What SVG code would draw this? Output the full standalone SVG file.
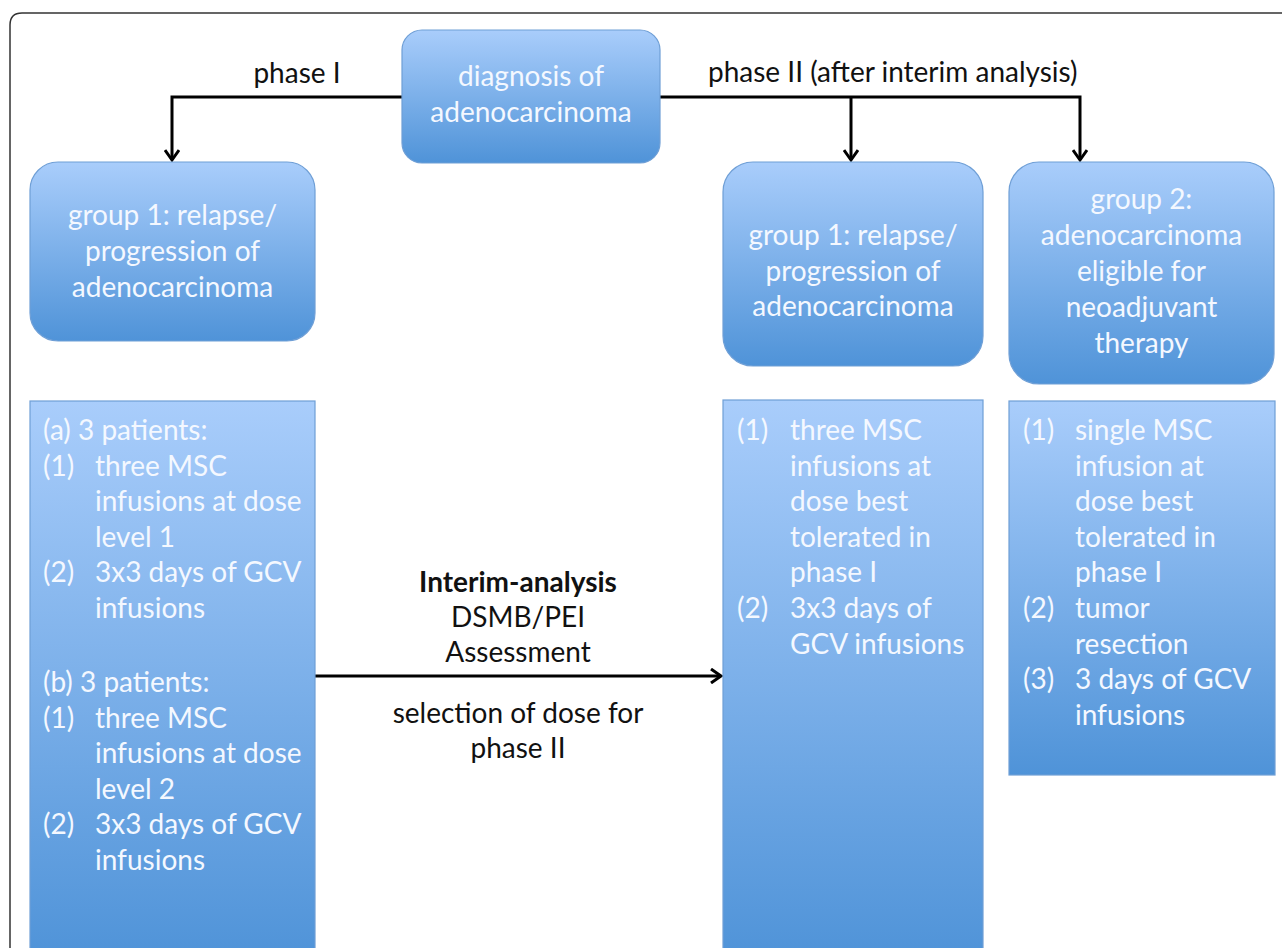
<svg xmlns="http://www.w3.org/2000/svg" width="1282" height="948" viewBox="0 0 1282 948">
<defs>
<linearGradient id="g" x1="0" y1="0" x2="0" y2="1">
<stop offset="0" stop-color="#a9cdfb"/>
<stop offset="1" stop-color="#4f93d8"/>
</linearGradient>
<linearGradient id="gtall" gradientUnits="userSpaceOnUse" x1="0" y1="400" x2="0" y2="960">
<stop offset="0" stop-color="#a9cdfb"/>
<stop offset="1" stop-color="#4f93d8"/>
</linearGradient>
<marker id="arr" markerWidth="16" markerHeight="16" refX="13" refY="8" orient="auto" markerUnits="userSpaceOnUse">
<path d="M3 1 L13 8 L3 15" fill="none" stroke="#000" stroke-width="3"/>
</marker>
<style>
.box{fill:url(#g);stroke:#6f9fd6;stroke-width:1.2}
.tall{fill:url(#gtall);stroke:#6f9fd6;stroke-width:1.2}
.wt{font-family:Lato,"Open Sans",sans-serif;font-size:28px;fill:#f4f8ff}
.c{text-anchor:middle}
.bt{font-family:Lato,"Open Sans",sans-serif;font-size:28px;fill:#111}
.line{fill:none;stroke:#000;stroke-width:3}
</style>
</defs>
<rect width="1282" height="948" fill="#fff"/>
<path d="M10 948 V25 Q10 13 22 13 H1282" fill="none" stroke="#333" stroke-width="1.5"/>

<g id="connectors">
<path class="line" d="M402 97 H172 V160" marker-end="url(#arr)"/>
<path class="line" d="M660 97 H1080 V160" marker-end="url(#arr)"/>
<path class="line" d="M851 97 V160" marker-end="url(#arr)"/>
<path class="line" d="M315 676 H721" marker-end="url(#arr)"/>
<text class="bt c" x="297" y="83">phase I</text>
<text class="bt" x="708" y="82">phase II (after interim analysis)</text>
</g>

<g id="diagnosis">
<rect class="box" x="402" y="30" width="258" height="133" rx="20"/>
<text class="wt c" x="531" y="86">diagnosis of</text>
<text class="wt c" x="531" y="121.5">adenocarcinoma</text>
</g>

<g id="group1-phase1">
<rect class="box" x="30" y="162" width="285" height="179" rx="28"/>
<text class="wt c" x="172.5" y="225">group 1: relapse/</text>
<text class="wt c" x="172.5" y="261">progression of</text>
<text class="wt c" x="172.5" y="297">adenocarcinoma</text>
</g>

<g id="group1-phase2">
<rect class="box" x="723" y="162" width="260" height="204" rx="30"/>
<text class="wt c" x="853" y="245">group 1: relapse/</text>
<text class="wt c" x="853" y="280.5">progression of</text>
<text class="wt c" x="853" y="316">adenocarcinoma</text>
</g>

<g id="group2">
<rect class="box" x="1009" y="162" width="265" height="222" rx="30"/>
<text class="wt c" x="1141.5" y="209">group 2:</text>
<text class="wt c" x="1141.5" y="245">adenocarcinoma</text>
<text class="wt c" x="1141.5" y="281">eligible for</text>
<text class="wt c" x="1141.5" y="317">neoadjuvant</text>
<text class="wt c" x="1141.5" y="353">therapy</text>
</g>

<g id="phase1-protocol">
<rect class="tall" x="30" y="401" width="285" height="560"/>
<text class="wt" x="43" y="440">(a) 3 patients:</text>
<text class="wt" x="43" y="475.6">(1)</text><text class="wt" x="95" y="475.6">three MSC</text>
<text class="wt" x="95" y="511.2">infusions at dose</text>
<text class="wt" x="95" y="546.8">level 1</text>
<text class="wt" x="43" y="582.4">(2)</text><text class="wt" x="95" y="582.4">3x3 days of GCV</text>
<text class="wt" x="95" y="618">infusions</text>
<text class="wt" x="43" y="692">(b) 3 patients:</text>
<text class="wt" x="43" y="727.6">(1)</text><text class="wt" x="95" y="727.6">three MSC</text>
<text class="wt" x="95" y="763.2">infusions at dose</text>
<text class="wt" x="95" y="798.8">level 2</text>
<text class="wt" x="43" y="834.4">(2)</text><text class="wt" x="95" y="834.4">3x3 days of GCV</text>
<text class="wt" x="95" y="870">infusions</text>
</g>

<g id="interim">
<text class="bt c" x="518" y="592" font-weight="bold">Interim-analysis</text>
<text class="bt c" x="518" y="627">DSMB/PEI</text>
<text class="bt c" x="518" y="662">Assessment</text>
<text class="bt c" x="518" y="723">selection of dose for</text>
<text class="bt c" x="518" y="758">phase II</text>
</g>

<g id="group1-protocol">
<rect class="tall" x="723" y="400" width="260" height="561"/>
<text class="wt" x="737" y="440">(1)</text><text class="wt" x="790" y="440">three MSC</text>
<text class="wt" x="790" y="475.6">infusions at</text>
<text class="wt" x="790" y="511.2">dose best</text>
<text class="wt" x="790" y="546.8">tolerated in</text>
<text class="wt" x="790" y="582.4">phase I</text>
<text class="wt" x="737" y="618">(2)</text><text class="wt" x="790" y="618">3x3 days of</text>
<text class="wt" x="790" y="653.6">GCV infusions</text>
</g>

<g id="group2-protocol">
<rect class="box" x="1009" y="401" width="266" height="374"/>
<text class="wt" x="1023" y="440">(1)</text><text class="wt" x="1075" y="440">single MSC</text>
<text class="wt" x="1075" y="475.6">infusion at</text>
<text class="wt" x="1075" y="511.2">dose best</text>
<text class="wt" x="1075" y="546.8">tolerated in</text>
<text class="wt" x="1075" y="582.4">phase I</text>
<text class="wt" x="1023" y="618">(2)</text><text class="wt" x="1075" y="618">tumor</text>
<text class="wt" x="1075" y="653.6">resection</text>
<text class="wt" x="1023" y="689.2">(3)</text><text class="wt" x="1075" y="689.2">3 days of GCV</text>
<text class="wt" x="1075" y="724.8">infusions</text>
</g>
</svg>
